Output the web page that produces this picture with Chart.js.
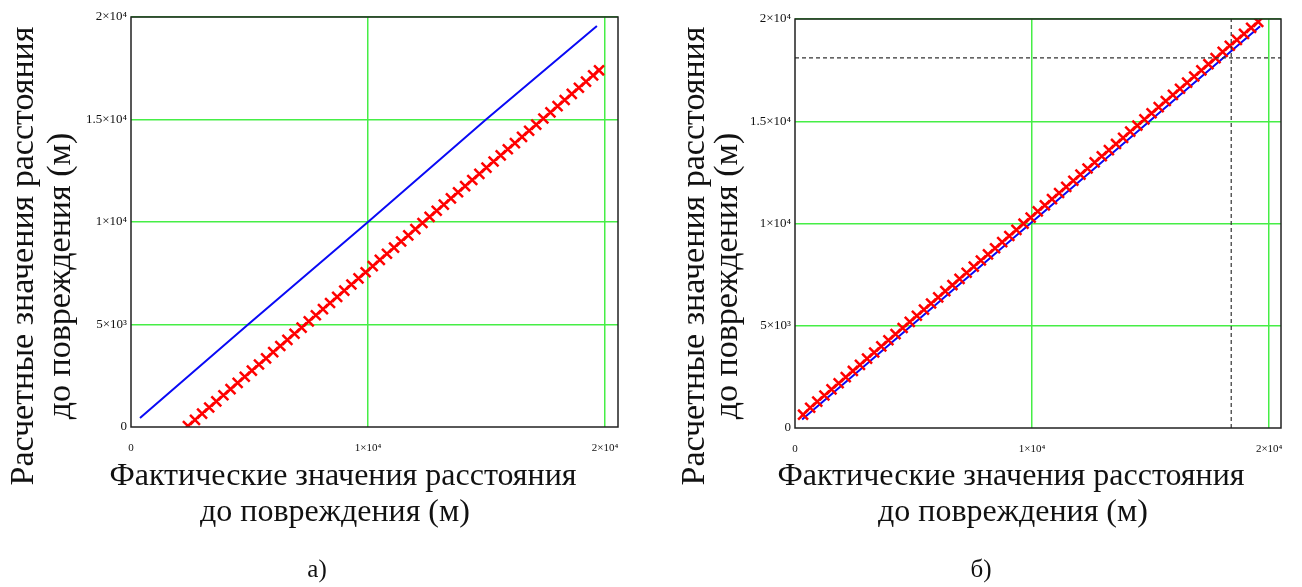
<!DOCTYPE html>
<html><head><meta charset="utf-8">
<script src="https://cdn.jsdelivr.net/npm/chart.js@4.4.1/dist/chart.umd.min.js"></script>
<style>
html,body{margin:0;padding:0;background:#fff;width:1302px;height:587px;overflow:hidden}
canvas{position:absolute;top:0}
</style></head><body>
<canvas id="ca" width="650" height="587" style="left:0"></canvas>
<canvas id="cb" width="652" height="587" style="left:650px"></canvas>
<script>
// ---- tick values and labels ----
const xTickValues = [0, 10000, 20000];
const xTickLabels = ['0', '1×10⁴', '2×10⁴'];
const yTickValues = [0, 5000, 10000, 15000, 20000];
const yTickLabels = ['0', '5×10³', '1×10⁴', '1.5×10⁴', '2×10⁴'];
const xTitleLines = ['Фактические значения расстояния', 'до повреждения (м)'];
const yTitleLines = ['Расчетные значения расстояния', 'до повреждения (м)'];
const captions = ['а)', 'б)'];

// ---- chart а): blue reference line and red computed series ----
const aBlueX = [380, 4940, 10000, 14980, 19660];
const aBlueY = [440, 5000, 10000, 15000, 19560];
const aRedX = [2400,2700,3000,3300,3600,3900,4200,4500,4800,5100,5400,5700,6000,6300,6600,6900,7200,7500,7800,8100,8400,8700,9000,9300,9600,9900,10200,10500,10800,11100,11400,11700,12000,12300,12600,12900,13200,13500,13800,14100,14400,14700,15000,15300,15600,15900,16200,16500,16800,17100,17400,17700,18000,18300,18600,18900,19200,19500,19750];
const aRedY = [50,350,650,950,1250,1550,1850,2150,2450,2750,3050,3350,3650,3950,4250,4550,4850,5150,5450,5750,6050,6350,6650,6950,7250,7550,7850,8150,8450,8750,9050,9350,9650,9950,10250,10550,10850,11150,11450,11750,12050,12350,12650,12950,13250,13550,13850,14150,14450,14750,15050,15350,15650,15950,16250,16550,16850,17150,17400];

// ---- chart б) ----
const bBlueX = [300, 5000, 10000, 15000, 19620];
const bBlueY = [420, 5095, 10070, 15045, 19640];
const bRedX = [340,640,940,1240,1540,1840,2140,2440,2740,3040,3340,3640,3940,4240,4540,4840,5140,5440,5740,6040,6340,6640,6940,7240,7540,7840,8140,8440,8740,9040,9340,9640,9940,10240,10540,10840,11140,11440,11740,12040,12340,12640,12940,13240,13540,13840,14140,14440,14740,15040,15340,15640,15940,16240,16540,16840,17140,17440,17740,18040,18340,18640,18940,19240,19540];
const bRedY = [650,990,1290,1590,1890,2190,2490,2790,3090,3390,3690,3990,4290,4590,4890,5190,5490,5790,6090,6390,6690,6990,7290,7590,7890,8190,8490,8790,9090,9390,9690,9990,10290,10590,10890,11190,11490,11790,12090,12390,12690,12990,13290,13590,13890,14190,14490,14790,15090,15390,15690,15990,16290,16590,16890,17190,17490,17790,18090,18390,18690,18980,19270,19570,19860];
const bMarkerX = 18400;   // dashed vertical marker
const bMarkerY = 18100;   // dashed horizontal marker

const pts = (xs, ys) => xs.map((x, i) => ({x, y: ys[i]}));
const SERIF = "'Liberation Serif', 'Times New Roman', serif";
const GRID = 'rgb(70,238,70)';

const framePlugin = {
  id: 'frame',
  afterDraw(chart) {
    const {ctx, chartArea: a} = chart;
    ctx.save();
    ctx.strokeStyle = '#222';
    ctx.lineWidth = 1.5;
    ctx.strokeRect(a.left, a.top, a.right - a.left, a.bottom - a.top);
    ctx.restore();
  }
};

const textPlugin = {
  id: 'texts',
  afterDraw(chart, args, opts) {
    const ctx = chart.ctx;
    (opts.items || []).forEach(it => {
      ctx.save();
      ctx.font = it.font;
      ctx.fillStyle = '#111';
      ctx.textAlign = 'center';
      ctx.textBaseline = 'middle';
      ctx.translate(it.x, it.y);
      if (it.rot) ctx.rotate(it.rot);
      ctx.fillText(it.text, 0, 0);
      ctx.restore();
    });
  }
};

function makeChart(id, cfg) {
  const datasets = [
    {data: pts(cfg.redX, cfg.redY), showLine: true, borderColor: '#ff0000', borderWidth: 1.5,
     pointStyle: 'crossRot', pointRadius: 7, pointBorderWidth: 2.5, pointBorderColor: '#ff0000',
     pointBackgroundColor: '#ff0000', order: 1},
    {data: pts(cfg.blueX, cfg.blueY), showLine: true, borderColor: '#0a0af5', borderWidth: 2,
     pointRadius: 0, order: 2}
  ];
  (cfg.dashes || []).forEach(d => datasets.push({
    data: pts(d.x, d.y), showLine: true, borderColor: '#333', borderWidth: 1.2,
    borderDash: [4, 3], pointRadius: 0, order: 0
  }));
  return new Chart(document.getElementById(id), {
    type: 'scatter',
    data: {datasets},
    options: {
      responsive: false, animation: false, devicePixelRatio: 1, events: [],
      layout: {padding: cfg.padding},
      plugins: {legend: {display: false}, tooltip: {enabled: false},
        texts: {items: cfg.texts}},
      scales: {
        x: {
          type: 'linear', min: 0, max: cfg.xMax,
          afterBuildTicks: s => { s.ticks = xTickValues.map(v => ({value: v})); },
          afterFit: s => { s.height = cfg.xHeight; },
          border: {display: false},
          grid: {drawTicks: false, lineWidth: 1.5,
            color: c => (c.tick && c.tick.value > 0) ? GRID : 'rgba(0,0,0,0)'},
          ticks: {padding: 15, maxRotation: 0, autoSkip: false, color: '#111',
            font: {family: SERIF, size: 11},
            callback: v => xTickLabels[xTickValues.indexOf(v)]}
        },
        y: {
          type: 'linear', min: 0, max: 20000,
          afterBuildTicks: s => { s.ticks = yTickValues.map(v => ({value: v})); },
          afterFit: s => { s.width = cfg.yWidth; },
          border: {display: false},
          grid: {drawTicks: false, lineWidth: 1.5,
            color: c => (c.tick && c.tick.value > 0) ? GRID : 'rgba(0,0,0,0)'},
          ticks: {padding: 4, autoSkip: false, color: '#111',
            font: {family: SERIF, size: 13},
            callback: v => yTickLabels[yTickValues.indexOf(v)]}
        }
      }
    },
    plugins: [framePlugin, textPlugin]
  });
}

const XF = '32px ' + SERIF;
const YF = '34px ' + SERIF;
makeChart('ca', {
  redX: aRedX, redY: aRedY, blueX: aBlueX, blueY: aBlueY,
  xMax: 20550, padding: {left: 0, top: 17, right: 32, bottom: 0}, yWidth: 131, xHeight: 160,
  texts: [
    {text: xTitleLines[0], x: 343, y: 477, font: XF},
    {text: xTitleLines[1], x: 335, y: 513, font: XF},
    {text: yTitleLines[0], x: 24, y: 256, rot: -Math.PI / 2, font: YF},
    {text: yTitleLines[1], x: 61, y: 276, rot: -Math.PI / 2, font: YF},
    {text: captions[0], x: 317, y: 570, font: '25px ' + SERIF}
  ]
});
makeChart('cb', {
  redX: bRedX, redY: bRedY, blueX: bBlueX, blueY: bBlueY,
  dashes: [{x: [bMarkerX, bMarkerX], y: [0, 20000]}, {x: [0, 20500], y: [bMarkerY, bMarkerY]}],
  xMax: 20500, padding: {left: 0, top: 19, right: 21, bottom: 0}, yWidth: 145, xHeight: 159,
  texts: [
    {text: xTitleLines[0], x: 361, y: 477, font: XF},
    {text: xTitleLines[1], x: 363, y: 513, font: XF},
    {text: yTitleLines[0], x: 45, y: 256, rot: -Math.PI / 2, font: YF},
    {text: yTitleLines[1], x: 78, y: 276, rot: -Math.PI / 2, font: YF},
    {text: captions[1], x: 331, y: 570, font: '25px ' + SERIF}
  ]
});
</script>
</body></html>
